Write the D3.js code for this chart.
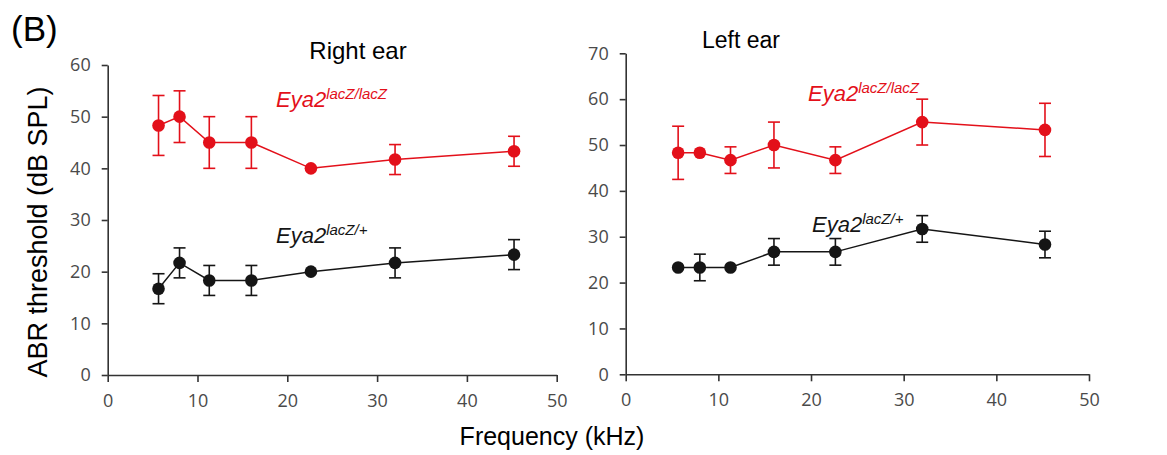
<!DOCTYPE html>
<meta charset="utf-8">
<script src="https://d3js.org/d3.v7.min.js"></script>
<style>
  body { margin: 0; background: #fff; }
  text { font-family: "Liberation Sans", Arial, sans-serif; }
</style>
<svg id="chart" width="1167" height="455"></svg>
<script>

  // frequencies tested (kHz)
  var freqs = [5.66, 8, 11.31, 16, 22.63, 32, 45.25];

  // right ear
  var rightHomMean = [48.3, 50, 45, 45, 40, 41.7, 43.3];
  var rightHomErr  = [5.8, 5, 5, 5, 0, 2.9, 2.9];
  var rightHetMean = [16.7, 21.7, 18.3, 18.3, 20, 21.7, 23.3];
  var rightHetErr  = [2.9, 2.9, 2.9, 2.9, 0, 2.9, 2.9];

  // left ear
  var leftHomMean = [48.3, 48.3, 46.7, 50, 46.7, 55, 53.3];
  var leftHomErr  = [5.8, 0, 2.9, 5, 2.9, 5, 5.8];
  var leftHetMean = [23.3, 23.3, 23.3, 26.7, 26.7, 31.7, 28.3];
  var leftHetErr  = [0, 2.9, 0, 2.9, 2.9, 2.9, 2.9];

  var xTicks = [0, 10, 20, 30, 40, 50];
  var rightYTicks = [0, 10, 20, 30, 40, 50, 60];
  var leftYTicks = [0, 10, 20, 30, 40, 50, 60, 70];

  var red = "#e3101a", dark = "#151515";

  var svg = d3.select("#chart");

  // a panel
  function panel(opt) {
    var x = d3.scaleLinear().domain([0, 50]).range(opt.xr);
    var y = d3.scaleLinear().domain([0, opt.ymax]).range(opt.yr);
    var g = svg.append("g");

    var xa = g.append("g")
        .attr("transform", "translate(0," + opt.yr[0] + ")")
        .call(d3.axisBottom(x).tickValues(xTicks).tickSize(7).tickSizeOuter(0).tickPadding(12));
    var ya = g.append("g")
        .attr("transform", "translate(" + opt.xr[0] + ",0)")
        .call(d3.axisLeft(y).tickValues(opt.yTicks).tickSize(6).tickSizeOuter(0).tickPadding(11));
    [xa, ya].forEach(function(a) {
      a.selectAll("path, line").attr("stroke", "#333").attr("stroke-width", 1.6);
      a.selectAll("text").attr("fill", "#4a4a4a").style("font-size", "18px")
        .style("font-family", "'Open Sans', 'Liberation Sans', sans-serif");
    });

    opt.series.forEach(function(s) {
      var pts = freqs.map(function(f, i) { return { f: f, m: s.mean[i], e: s.err[i] }; });
      var line = d3.line().x(function(d) { return x(d.f); }).y(function(d) { return y(d.m); });
      g.append("path").datum(pts)
        .attr("d", line).attr("fill", "none")
        .attr("stroke", s.color).attr("stroke-width", 1.5);

      var eb = g.append("g").selectAll("g").data(pts.filter(function(d) { return d.e > 0; }))
        .enter().append("g").attr("stroke", s.color).attr("stroke-width", 1.6);
      eb.append("line")
        .attr("x1", function(d) { return x(d.f); }).attr("x2", function(d) { return x(d.f); })
        .attr("y1", function(d) { return y(d.m - d.e); }).attr("y2", function(d) { return y(d.m + d.e); });
      [1, -1].forEach(function(sg) {
        eb.append("line")
          .attr("x1", function(d) { return x(d.f) - 6; }).attr("x2", function(d) { return x(d.f) + 6; })
          .attr("y1", function(d) { return y(d.m + sg * d.e); }).attr("y2", function(d) { return y(d.m + sg * d.e); });
      });

      g.append("g").selectAll("circle").data(pts).enter().append("circle")
        .attr("cx", function(d) { return x(d.f); })
        .attr("cy", function(d) { return y(d.m); })
        .attr("r", 6.3)
        .attr("fill", s.color);

      var t = g.append("text")
        .attr("x", s.lx).attr("y", s.ly)
        .attr("fill", s.color)
        .style("font-style", "italic")
        .style("font-size", "22px");
      t.append("tspan").text("Eya2");
      t.append("tspan").attr("dy", -8).style("font-size", "15px").text(s.sup);
    });

    g.append("text")
      .attr("x", opt.tx).attr("y", opt.ty)
      .attr("text-anchor", "middle")
      .style("font-size", opt.ts)
      .attr("fill", "#000")
      .text(opt.title);
  }

  panel({
    xr: [107.7, 556.7], yr: [375, 65], ymax: 60, yTicks: rightYTicks,
    title: "Right ear", tx: 358, ty: 59, ts: "24px",
    series: [
      { mean: rightHomMean, err: rightHomErr, color: red, sup: "lacZ/lacZ", lx: 276, ly: 107 },
      { mean: rightHetMean, err: rightHetErr, color: dark, sup: "lacZ/+", lx: 276, ly: 243 }
    ]
  });

  panel({
    xr: [625.7, 1089], yr: [374.3, 53.3], ymax: 70, yTicks: leftYTicks,
    title: "Left ear", tx: 741, ty: 48, ts: "23px",
    series: [
      { mean: leftHomMean, err: leftHomErr, color: red, sup: "lacZ/lacZ", lx: 808, ly: 101 },
      { mean: leftHetMean, err: leftHetErr, color: dark, sup: "lacZ/+", lx: 812, ly: 232 }
    ]
  });

  // panel letter
  svg.append("text").attr("x", 11).attr("y", 41)
    .style("font-size", "35px").text("(B)");

  // shared axis titles
  svg.append("text")
    .attr("transform", "translate(47,232) rotate(-90)")
    .attr("text-anchor", "middle")
    .style("font-size", "27px")
    .text("ABR threshold (dB SPL)");

  svg.append("text")
    .attr("x", 552).attr("y", 445)
    .attr("text-anchor", "middle")
    .style("font-size", "25px")
    .text("Frequency (kHz)");

</script>
